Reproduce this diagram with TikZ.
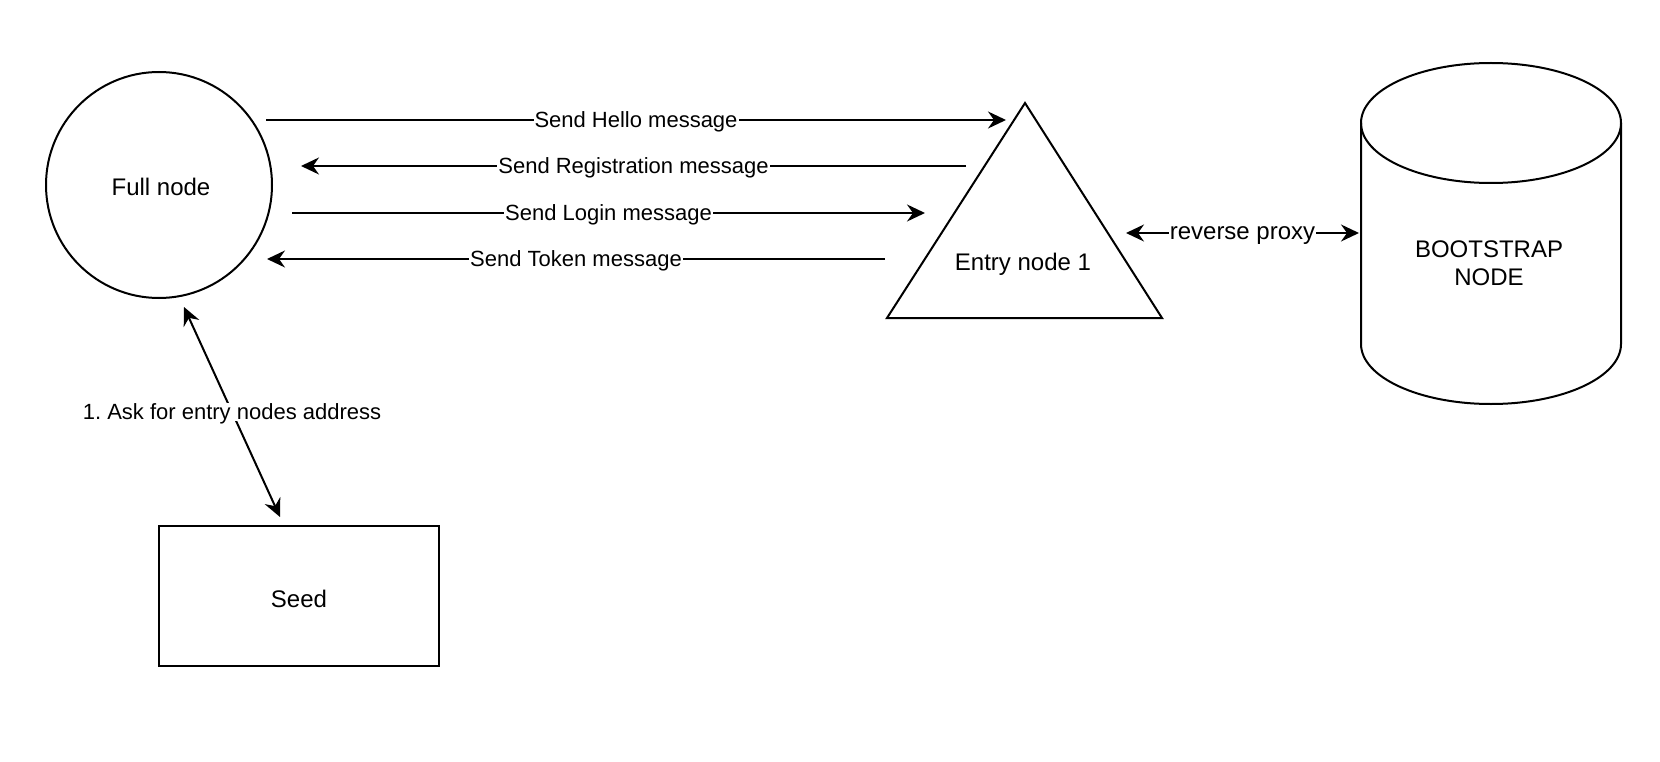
\documentclass[tikz,border=0pt]{standalone}
\usepackage{fontspec}
\setmainfont{Liberation Sans}
\frenchspacing
\usetikzlibrary{arrows.meta}
\begin{document}
\begin{tikzpicture}[x=1pt,y=-1pt,line width=2pt,
  conn/.style={-{Stealth[length=18pt,width=17pt,inset=6pt]}},
  dconn/.style={{Stealth[length=18pt,width=17pt,inset=6pt]}-{Stealth[length=18pt,width=17pt,inset=6pt]}},
  lbl/.style={fill=white,inner sep=1pt,text depth=0pt,font=\fontsize{22}{26}\selectfont},
  lblbig/.style={fill=white,inner sep=1pt,text depth=0pt,font=\fontsize{24}{28}\selectfont},
  txt/.style={font=\fontsize{24}{27.6}\selectfont,align=center,inner sep=0pt,text depth=0pt}]
\useasboundingbox (0,0) rectangle (1660,762);
% Full node
\node[draw,circle,minimum size=226pt,inner sep=0pt] (full) at (159,185) {};
\node[txt] (fulltxt) at (161,187) {Full node};
% Entry node triangle
\coordinate (tA) at (1025,103);
\coordinate (tL) at (887,318);
\coordinate (tR) at (1162,318);
\draw (tA) -- (tL) -- (tR) -- cycle;
\node[txt] (entry) at (1023,262) {Entry node 1};
% Bootstrap cylinder
\draw (1491,123) ellipse [x radius=130pt,y radius=60pt];
\draw (1361,123) -- (1361,344) arc[start angle=180,end angle=360,x radius=130pt,y radius=60pt] -- (1621,123);
\node[txt] (boot) at (1489,263) {BOOTSTRAP\\NODE};
% Seed
\node[draw,rectangle,minimum width=280pt,minimum height=140pt] (seed) at (299,596) {};
\node[txt] (seedtxt) at (299,599) {Seed};
% connector end points
\coordinate (h1) at (266,120);  \coordinate (h2) at (1006,120);
\coordinate (r1) at (966,166);  \coordinate (r2) at (301,166);
\coordinate (l1) at (292,213);  \coordinate (l2) at (925,213);
\coordinate (k1) at (885,259);  \coordinate (k2) at (267,259);
\coordinate (p1) at (1126,233); \coordinate (p2) at (1359,233);
\coordinate (s1) at (184,307);  \coordinate (s2) at (280,517);
\draw[conn] (h1) -- node[lbl]{Send Hello message} (h2);
\draw[conn] (r1) -- node[lbl]{Send Registration message} (r2);
\draw[conn] (l1) -- node[lbl]{Send Login message} (l2);
\draw[conn] (k1) -- node[lbl]{Send Token message} (k2);
\draw[dconn] (p1) -- node[lblbig]{reverse proxy} (p2);
\draw[dconn] (s1) -- node[lbl]{1. Ask for entry nodes address} (s2);
\end{tikzpicture}
\end{document}
